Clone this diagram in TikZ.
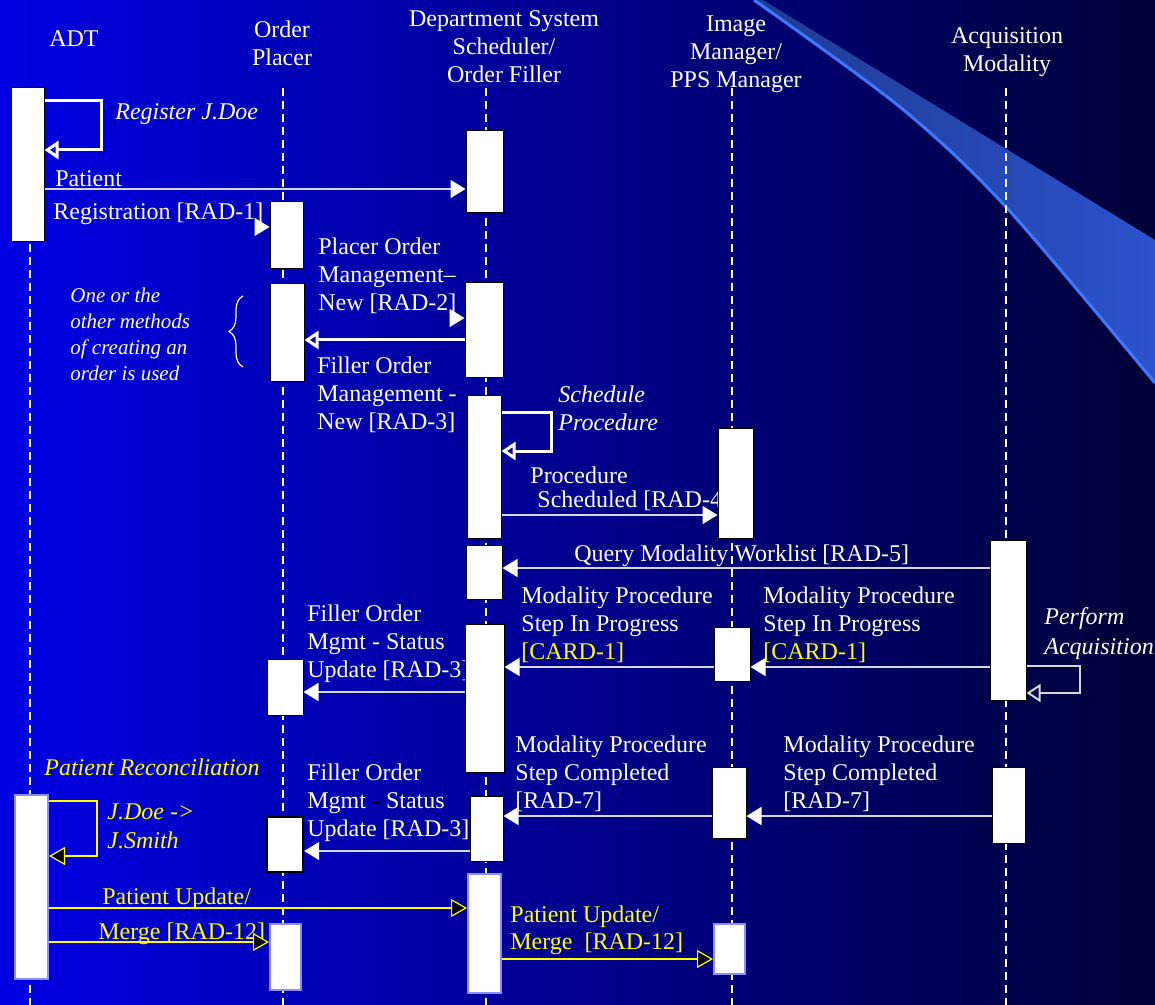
\documentclass[tikz,border=0pt]{standalone}
\usepackage{fontspec}
\setmainfont{Liberation Serif}
\usetikzlibrary{arrows.meta,fit,decorations.pathreplacing}

\definecolor{bgleft}{RGB}{0,0,228}
\definecolor{bgmid}{RGB}{0,0,165}
\definecolor{bgright}{RGB}{0,0,55}
\definecolor{swooshdark}{RGB}{30,58,145}
\definecolor{swooshlight}{RGB}{44,82,205}
\definecolor{swooshedge}{RGB}{58,120,255}
\definecolor{msggray}{RGB}{215,215,215}
\definecolor{barrim}{RGB}{140,140,255}
\definecolor{hl}{RGB}{255,255,0}

\begin{document}
\begin{tikzpicture}[x=0.5pt,y=-0.5pt,
		bar/.style={draw=black, line width=0.5pt, fill=white},
		barb/.style={draw=barrim, line width=1pt, fill=white},
		lifeline/.style={white, line width=1pt, dash pattern=on 4pt off 2.5pt},
		head/.style={anchor=north, align=center, text=white, font=\fontsize{12}{14}\selectfont},
		lbl/.style={anchor=north west, align=left, text=white, font=\fontsize{12}{14}\selectfont},
		ilbl/.style={lbl, font=\fontsize{12}{14}\selectfont\itshape},
		msg/.style={draw=msggray, line width=0.8pt, -{Triangle[length=7.5pt,width=9pt,color=white]}},
		fat/.style={draw=white, line width=1.5pt, -{Triangle[open,length=7pt,width=9pt]}},
		gloop/.style={draw=msggray, line width=1pt, -{Triangle[open,length=7pt,width=9pt]}},
		ymsg/.style={draw=hl, line width=0.6pt, -{Triangle[length=8pt,width=9pt,fill=black]}}]
		\tikzstyle{every node}+=[inner sep=0pt]
		\useasboundingbox (0,0) rectangle (1155,1005);
		\shade [left color=bgleft, middle color=bgmid, right color=bgright] (0,0) rectangle (1155,1005);
		% swoosh
		\shade [left color=swooshdark, right color=swooshlight] (763,0) -- (1155,240) -- (1155,383) -- plot [smooth] coordinates {(1155,383) (1006,207) (900,107) (754,0)} -- cycle;
		\draw [swooshedge, line width=1.5pt] plot [smooth] coordinates {(754,0) (900,107) (1006,207) (1155,383)};
		% actors
		\node [head] (adt) at (74,30) {ADT};
		\node [head] (op) at (282,20) {Order\\Placer};
		\node [head] (dss) at (504,10) {Department System\\Scheduler/\\Order Filler};
		\node [head] (im) at (736,15) {Image\\Manager/\\PPS Manager};
		\node [head] (am) at (1007,27) {Acquisition\\Modality};
		\draw [lifeline] (30,88) -- (30,1005);
		\draw [lifeline] (283,88) -- (283,1005);
		\draw [lifeline] (486,88) -- (486,1005);
		\draw [lifeline] (732,88) -- (732,1005);
		\draw [lifeline] (1006,88) -- (1006,1005);
		% labels
		\node [ilbl] (reg) at (115,103) {Register J.Doe};
		\node [lbl] (pr1) at (55,170) {Patient};
		\node [lbl] (pr2) at (53,202) {Registration [RAD-1]};
		\node [lbl] (pon) at (318,237) {Placer Order\\Management–\\New [RAD-2]};
		\node [lbl, font=\fontsize{10.5}{12.85}\selectfont\itshape] (note) at (70,288) {One or the\\other methods\\of creating an\\order is used};
		\draw [white, line width=0.6pt, decorate, decoration={brace, amplitude=7pt}] (243,367) -- (243,296);
		\node [lbl] (fon) at (317,356) {Filler Order\\Management -\\New [RAD-3]};
		\node [ilbl] (sp) at (558,385) {Schedule\\Procedure};
		\node [lbl] (ps1) at (530,466) {Procedure};
		\node [lbl] (ps2) at (537,490) {Scheduled [RAD-4]};
		\node [lbl] (qmw) at (574,544) {Query Modality Worklist [RAD-5]};
		\node [lbl] (mip1) at (521,586) {Modality Procedure\\Step In Progress\\\textcolor{hl}{[CARD-1]}};
		\node [lbl] (mip2) at (763,586) {Modality Procedure\\Step In Progress\\\textcolor{hl}{[CARD-1]}};
		\node [ilbl, font=\fontsize{12}{15}\selectfont\itshape] (pa) at (1044,607) {Perform\\Acquisition};
		\node [lbl] (fos1) at (307,604) {Filler Order\\Mgmt - Status\\Update [RAD-3]};
		\node [lbl] (mpc1) at (515,735) {Modality Procedure\\Step Completed\\{}[RAD-7]};
		\node [lbl] (mpc2) at (783,735) {Modality Procedure\\Step Completed\\{}[RAD-7]};
		\node [ilbl, text=hl] (prc) at (44,758) {Patient Reconciliation};
		\node [ilbl, text=hl, font=\fontsize{12}{14.5}\selectfont\itshape] (js) at (107,803) {J.Doe ->\\J.Smith};
		\node [lbl] (fos2) at (307,763) {Filler Order\\Mgmt {\color{black}-} Status\\Update [RAD-3]};
		\node [lbl, text=hl] (pu1) at (102,887) {Patient Update/};
		\node [lbl, text=hl] (pu2) at (98,922) {Merge [RAD-12]};
		\node [lbl, text=hl, font=\fontsize{12}{13.5}\selectfont] (pu3) at (510,905) {Patient Update/\\Merge\ \ [RAD-12]};
		% activation bars
		\node [bar, fit={(11,88) (44,242)}] (a1) {};
		\node [barb, fit={(15,795) (48,979)}] (a2) {};
		\node [bar, fit={(270,202) (303,269)}] (p1) {};
		\node [bar, fit={(270,284) (304,381)}] (p2) {};
		\node [bar, fit={(267,659) (303,715)}] (p3) {};
		\node [bar, line width=1.2pt, fit={(267,817) (303,872)}] (p4) {};
		\node [barb, fit={(270,924) (301,990)}] (p5) {};
		\node [bar, fit={(466,131) (503,213)}] (d1) {};
		\node [bar, fit={(465,283) (503,377)}] (d2) {};
		\node [bar, fit={(467,395) (501,538)}] (d3) {};
		\node [bar, fit={(466,545) (502,599)}] (d4) {};
		\node [bar, fit={(465,624) (504,772)}] (d5) {};
		\node [bar, fit={(470,796) (503,861)}] (d6) {};
		\node [barb, fit={(468,874) (501,993)}] (d7) {};
		\node [bar, fit={(718,428) (753,538)}] (i1) {};
		\node [bar, fit={(714,627) (750,681)}] (i2) {};
		\node [bar, fit={(712,767) (746,838)}] (i3) {};
		\node [barb, fit={(714,924) (745,974)}] (i4) {};
		\node [bar, fit={(990,540) (1026,700)}] (q1) {};
		\node [bar, fit={(992,767) (1025,843)}] (q2) {};
		% messages
		\draw [fat] (a1.east |- 0,101) -- ++(57,0) |- (a1.east |- 0,150);
		\draw [msg] (a1.east |- 0,189) -- (d1.west |- 0,189);
		\draw [msg, shorten <=105pt] (a1.east |- 0,227) -- (p1.west |- 0,227);
		\draw [msg, shorten <=73pt] (p2.east |- 0,318) -- (d2.west |- 0,318);
		\draw [fat] (d2.west |- 0,340) -- (p2.east |- 0,340);
		\draw [fat] (d3.east |- 0,412) -- ++(50,0) |- (d3.east |- 0,451);
		\draw [msg] (d3.east |- 0,515) -- (i1.west |- 0,515);
		\draw [msg] (q1.west |- 0,568) -- (d4.east |- 0,568);
		\draw [msg] (i2.west |- 0,667) -- (d5.east |- 0,667);
		\draw [msg] (q1.west |- 0,667) -- (i2.east |- 0,667);
		\draw [gloop] (q1.east |- 0,666) -- ++(53,0) |- (q1.east |- 0,693);
		\draw [msg] (d5.west |- 0,692) -- (p3.east |- 0,692);
		\draw [msg] (i3.west |- 0,816) -- (d6.east |- 0,816);
		\draw [msg] (q2.west |- 0,816) -- (i3.east |- 0,816);
		\draw [msg] (d6.west |- 0,851) -- (p4.east |- 0,851);
		\draw [ymsg] (a2.east |- 0,801) -- ++(48,0) |- (a2.east |- 0,856);
		\draw [ymsg] (a2.east |- 0,908) -- (d7.west |- 0,908);
		\draw [ymsg] (a2.east |- 0,942) -- (p5.west |- 0,942);
		\draw [ymsg] (d7.east |- 0,959) -- (i4.west |- 0,959);
\end{tikzpicture}
\end{document}
